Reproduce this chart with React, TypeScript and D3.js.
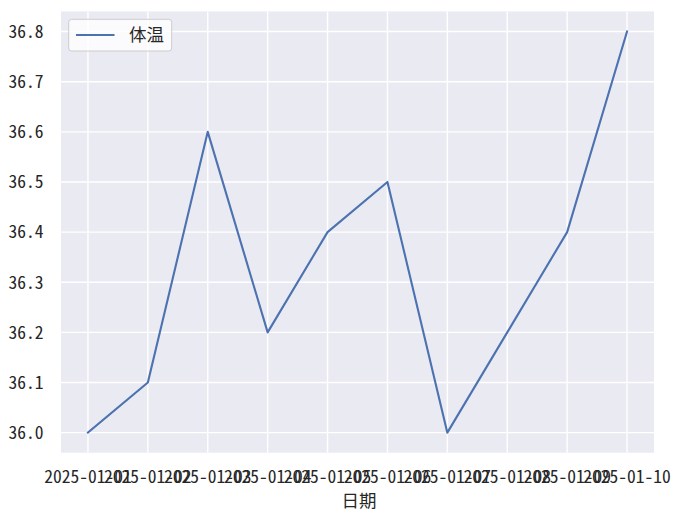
import React from "react";
import * as d3 from "d3";

const dates = ["2025-01-01","2025-01-02","2025-01-03","2025-01-04","2025-01-05","2025-01-06","2025-01-07","2025-01-08","2025-01-09","2025-01-10"];
const temps = [36.0, 36.1, 36.6, 36.2, 36.4, 36.5, 36.0, 36.2, 36.4, 36.8];
const yTicks = [36.0, 36.1, 36.2, 36.3, 36.4, 36.5, 36.6, 36.7, 36.8];
const seriesName = "体温";
const xTitle = "日期";

const W = 677, H = 516;
const L = 61, R = 654, T = 11.5, B = 452.7;
const FONT = "'Noto Sans CJK SC', 'Noto Sans', sans-serif";

export default function App() {
  const parse = d3.timeParse("%Y-%m-%d");
  const ds = dates.map((d) => parse(d) as Date);
  const x0 = ds[0].getTime(), x1 = ds[ds.length - 1].getTime();
  const xm = (x1 - x0) * 0.05;
  const x = d3.scaleTime().domain([new Date(x0 - xm), new Date(x1 + xm)]).range([L, R]);
  const ymin = d3.min(temps)!, ymax = d3.max(temps)!;
  const ym = (ymax - ymin) * 0.05;
  const y = d3.scaleLinear().domain([ymin - ym, ymax + ym]).range([B, T]);
  const line = d3.line<number>().x((_, i) => x(ds[i])).y((v) => y(v));
  const fs = 17.5;
  const textStyle: React.CSSProperties = { fontFamily: FONT, fontSize: fs, fill: "#262626", fontFeatureSettings: "'hwid'" };
  return (
    <svg width={W} height={H} style={{ position: "absolute", left: 0, top: 0 }}>
      <rect x={0} y={0} width={W} height={H} fill="#ffffff" />
      <rect x={L} y={T} width={R - L} height={B - T} fill="#EAEAF2" />
      {ds.map((d, i) => (
        <line key={"vx" + i} x1={x(d)} x2={x(d)} y1={T} y2={B} stroke="#ffffff" strokeWidth={1.4} />
      ))}
      {yTicks.map((t, i) => (
        <line key={"hy" + i} x1={L} x2={R} y1={y(t)} y2={y(t)} stroke="#ffffff" strokeWidth={1.4} />
      ))}
      <path d={line(temps) || ""} fill="none" stroke="#4C72B0" strokeWidth={2.1} strokeLinejoin="round" strokeLinecap="square" />
      {yTicks.map((t, i) => (
        <text key={"yl" + i} x={43.5} y={y(t)} dy="0.36em" textAnchor="end" style={textStyle}>
          {t.toFixed(1)}
        </text>
      ))}
      {ds.map((d, i) => (
        <text key={"xl" + i} x={x(d)} y={483} textAnchor="middle" style={textStyle}>
          {dates[i]}
        </text>
      ))}
      <text x={(L + R) / 2 + 1.5} y={507} textAnchor="middle" style={textStyle}>{xTitle}</text>
      <g>
        <rect x={68.7} y={19.3} width={103} height={31.7} rx={3} ry={3} fill="#ffffff" fillOpacity={0.8} stroke="#cccccc" strokeWidth={1} />
        <line x1={76} x2={114.5} y1={35} y2={35} stroke="#4C72B0" strokeWidth={2.1} />
        <text x={129} y={35} dy="0.36em" style={textStyle}>{seriesName}</text>
      </g>
    </svg>
  );
}
